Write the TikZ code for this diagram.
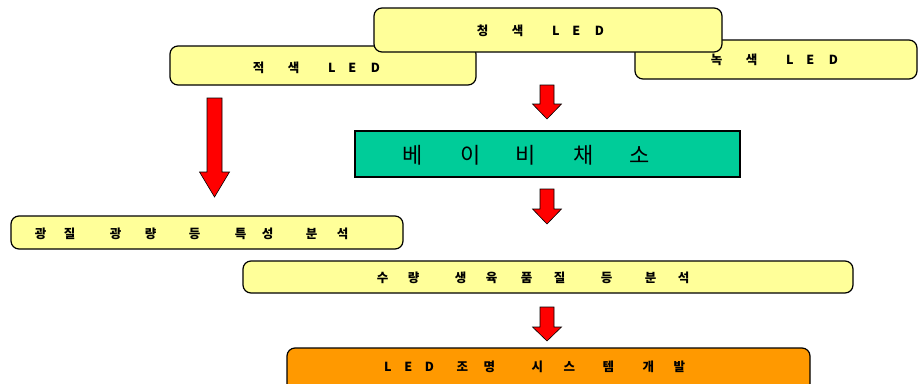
\documentclass[tikz,border=0pt]{standalone}
\usepackage{fontspec}
\setmainfont{Noto Sans CJK KR}
\definecolor{ylw}{HTML}{FFFF99}
\definecolor{teal2}{HTML}{00CC99}
\definecolor{orng}{HTML}{FF9900}
\newcommand\gp[1]{\hspace{#1pt}}
\newcommand\redarrow[7]{% name, x, top, headstart, tip, halfshaft, halfhead
  \coordinate (#1) at (#2,#3);
  \draw[fatarrow] ({#2-#6},#3) -- ({#2+#6},#3) -- ({#2+#6},#4) -- ({#2+#7},#4)
    -- (#2,#5) -- ({#2-#7},#4) -- ({#2-#6},#4) -- cycle;}
\tikzset{
  rbox/.style={draw=black, line width=1.2pt, rounded corners=8pt, fill=ylw},
  lbl/.style={inner sep=0pt, anchor=west, font=\fontsize{12.5}{14}\selectfont\bfseries},
  fatarrow/.style={draw=black, line width=0.6pt, fill=red, line join=miter},
}
\begin{document}
\begin{tikzpicture}[x=1pt,y=-1pt]
\useasboundingbox (0,0) rectangle (918,383);
% top LED boxes
\draw[rbox] (170,46) rectangle (476,85);
\coordinate (redbox) at (323,65);
\draw[rbox] (635,40) rectangle (917,79);
\coordinate (greenbox) at (776,60);
\draw[rbox] (374,8) rectangle (722,52);
\coordinate (bluebox) at (548,30);
\node[lbl] (blueT) at (476.75,31) {청\gp{23.5}색\gp{28.7}L\gp{12.65}E\gp{14.6}D};
\node[lbl] (redT) at (252.75,68) {적\gp{23.5}색\gp{28.7}L\gp{12.65}E\gp{14.6}D};
\node[lbl] (greenT) at (710.75,60) {녹\gp{23.5}색\gp{28.7}L\gp{12.65}E\gp{14.6}D};
% baby vegetable box
\draw[draw=black, line width=1.2pt, fill=teal2] (355,131) rectangle (740,177);
\node[inner sep=0pt, anchor=west, font=\fontsize{22}{24}\selectfont] (babyT) at (402,155)
  {베\gp{38}이\gp{35}비\gp{38}채\gp{35}소};
% analysis boxes
\draw[rbox] (11,216) rectangle (403,249);
\node[lbl] (lightT) at (34.75,234) {광\gp{17.5}질\gp{34.5}광\gp{23.5}량\gp{32.5}등\gp{34.5}특\gp{15.5}성\gp{32.5}분\gp{19.5}석};
\draw[rbox] (243,261) rectangle (853,293);
\node[lbl] (yieldT) at (376.75,278) {수\gp{19.5}량\gp{35.5}생\gp{19.5}육\gp{23.5}품\gp{21.5}질\gp{35.5}등\gp{32.5}분\gp{21.5}석};
% final box
\draw[draw=black, line width=1.2pt, rounded corners=8pt, fill=orng] (287,348) rectangle (810,395);
\node[lbl] (ledT) at (383.95,367) {L\gp{12.65}E\gp{12.6}D\gp{22.65}조\gp{15.5}명\gp{36.5}시\gp{20.5}스\gp{27.5}템\gp{28.5}개\gp{19.5}발};
% arrows
\redarrow{arrL}{214.5}{98}{172}{197}{7.5}{15}
\redarrow{arr1}{547}{85}{104}{119}{7}{14.5}
\redarrow{arr2}{547}{189}{209}{224}{7}{14.5}
\redarrow{arr3}{547}{307}{327}{341}{7}{14.5}
\end{tikzpicture}
\end{document}
